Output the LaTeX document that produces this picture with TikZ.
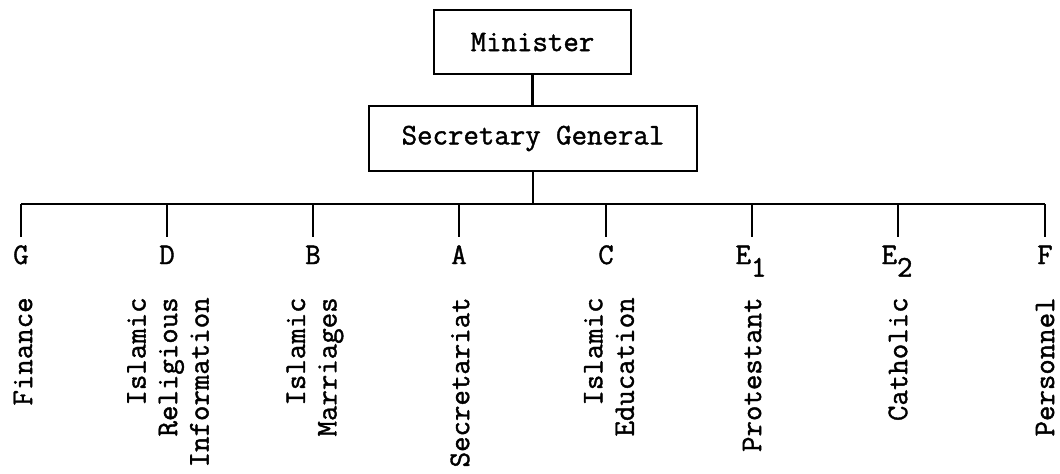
\documentclass[tikz,border=0pt]{standalone}
\usepackage{fontspec}
\newfontfamily\twfont{Latin Modern Mono}[BoldFont={Latin Modern Mono},BoldFeatures={FakeBold=1.3}]
\begin{document}
\begin{tikzpicture}[x=0.5pt,y=-0.5pt,
  every node/.style={font=\twfont\bfseries\fontsize{15}{15.75}\selectfont},
  box/.style={draw,line width=1.1pt,inner sep=0pt},
  letter/.style={inner sep=0pt,anchor=base},
  lab/.style={inner sep=0pt,anchor=east,rotate=90,align=right},
  conn/.style={line width=1.1pt}]
\useasboundingbox (0,0) rectangle (1060,473);
\node[box,minimum width=98.5pt,minimum height=32pt] (min) at (532.5,42) {Minister};
\node[box,minimum width=164pt,minimum height=32.5pt] (sg) at (533,138.5) {Secretary General};
\draw[conn] (min.south) -- (min.south |- sg.north);
\coordinate (j) at (533,204);
\draw[conn] (sg.south) -- (j);
% tick coordinates
\coordinate (tG) at (21,204);  \coordinate (bG) at (21,237);
\coordinate (tD) at (167,204); \coordinate (bD) at (167,237);
\coordinate (tB) at (313,204); \coordinate (bB) at (313,237);
\coordinate (tA) at (459,204); \coordinate (bA) at (459,237);
\coordinate (tC) at (606,204); \coordinate (bC) at (606,237);
\coordinate (tE1) at (752,204); \coordinate (bE1) at (752,237);
\coordinate (tE2) at (898,204); \coordinate (bE2) at (898,237);
\coordinate (tF) at (1045,204); \coordinate (bF) at (1045,237);
\draw[conn] (tG) -- (tF);
\foreach \n in {G,D,B,A,C,E1,E2,F}{\draw[conn] (t\n) -- (b\n);}
% letters
\node[letter] (G) at (21,264) {G};
\node[letter] (D) at (167,264) {D};
\node[letter] (B) at (313,264) {B};
\node[letter] (A) at (459,264) {A};
\node[letter] (C) at (606,264) {C};
\node[letter] (E1) at (751,264) {E\raisebox{-0.42em}{1}};
\node[letter] (E2) at (897,264) {E\raisebox{-0.42em}{2}};
\node[letter] (F) at (1045,264) {F};
% labels
\node[lab] (lG) at (23,297) {Finance};
\node[lab] (lD) at (168,297) {Islamic\\Religious\\Information};
\node[lab] (lB) at (315,297) {Islamic\\Marriages};
\node[lab] (lA) at (460,297) {Secretariat};
\node[lab] (lC) at (609,297) {Islamic\\Education};
\node[lab] (lE1) at (752,297) {Protestant};
\node[lab] (lE2) at (898,297) {Catholic};
\node[lab] (lF) at (1045,297) {Personnel};
\end{tikzpicture}
\end{document}
